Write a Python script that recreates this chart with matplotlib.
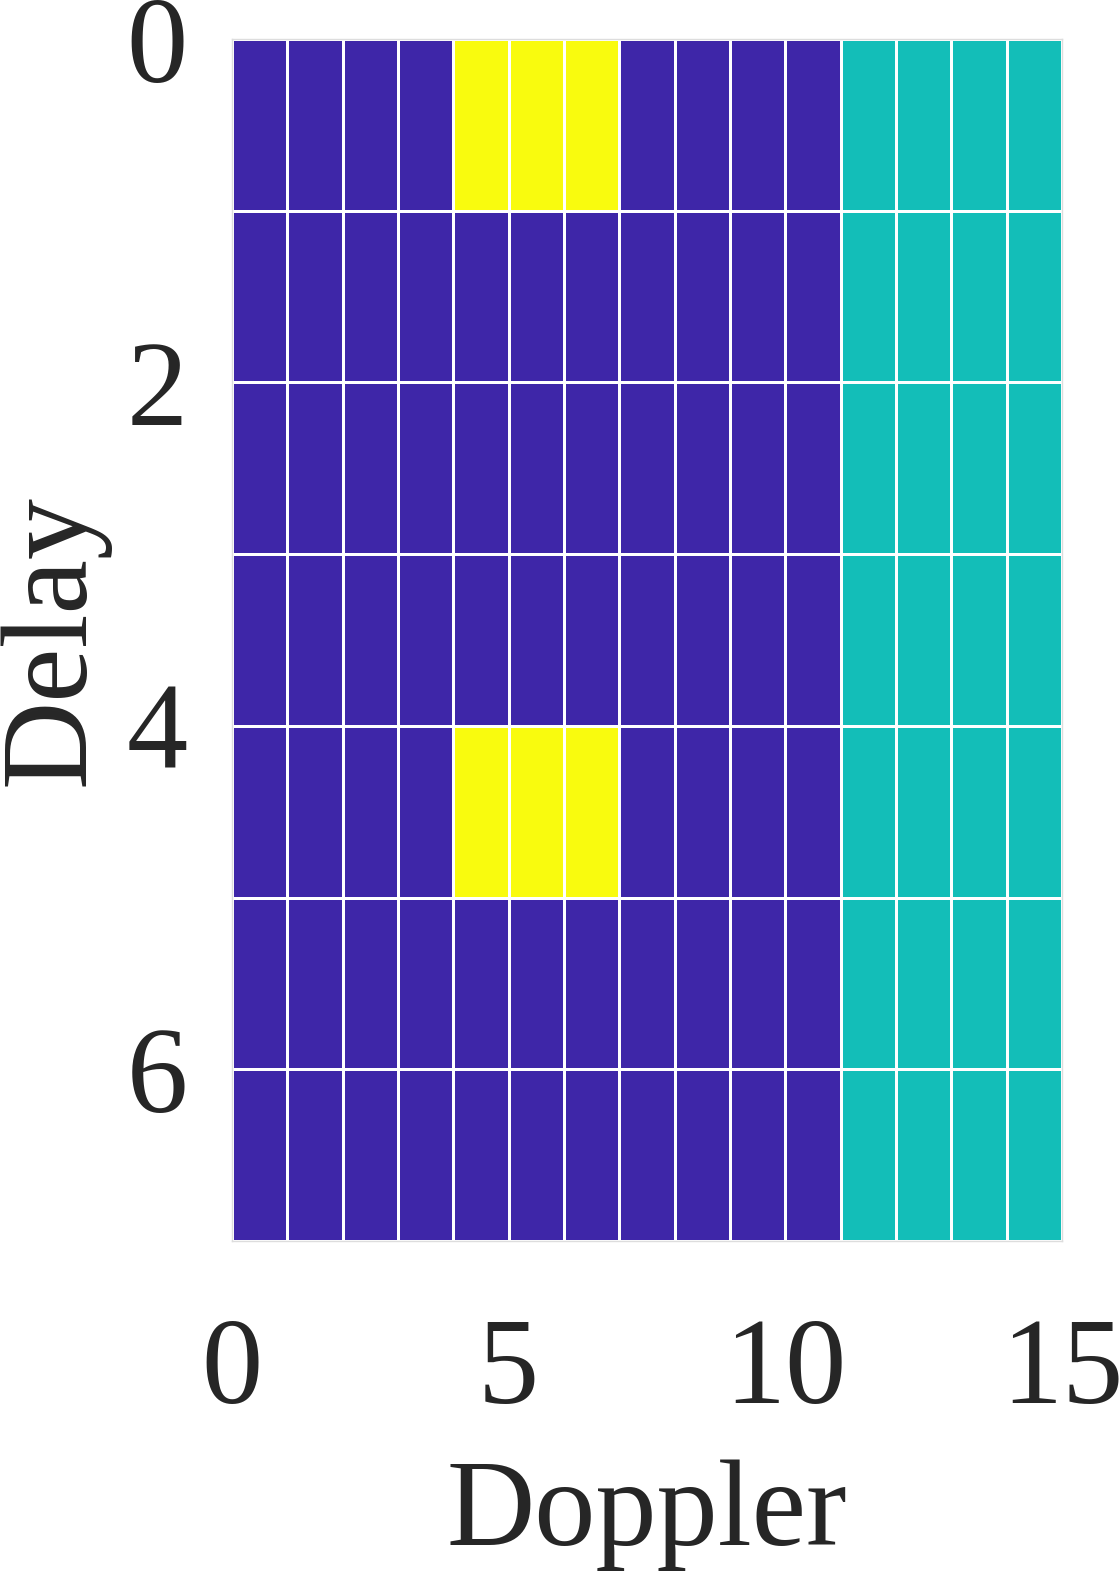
import numpy as np
import matplotlib.pyplot as plt
from matplotlib.colors import ListedColormap

# grid values: 0 = low (blue), 1 = mid (teal), 2 = high (yellow)
n_delay = 7
n_doppler = 15
teal_cols = [11, 12, 13, 14]
yellow_rows = [0, 4]
yellow_cols = [4, 5, 6]

xticks = [0, 5, 10, 15]
yticks = [0, 2, 4, 6]

grid = np.zeros((n_delay, n_doppler))
grid[:, teal_cols] = 1
for r in yellow_rows:
    grid[r, yellow_cols] = 2

cmap = ListedColormap(['#3E26A8', '#13BEB8', '#F9FB0E'])

plt.rcParams['font.family'] = ['Liberation Serif', 'DejaVu Serif']
txt = '#262626'

fig = plt.figure(figsize=(11.2, 15.84), dpi=100)
ax = fig.add_axes([232/1120, 1 - 1241/1584, 830/1120, 1202/1584])
ax.pcolormesh(np.arange(n_doppler + 1), np.arange(n_delay + 1), grid,
              cmap=cmap, vmin=0, vmax=2, edgecolors='white', linewidth=2)
ax.set_xlim(0, 15)
ax.set_ylim(7, 0)
ax.set_xticks(xticks)
ax.set_yticks(yticks)
ax.tick_params(length=0, labelsize=88, labelcolor=txt)
ax.tick_params(axis='x', pad=55)
ax.tick_params(axis='y', pad=32)
for s in ax.spines.values():
    s.set_color('#dddddd')
    s.set_linewidth(1)
ax.set_xlabel('Doppler', fontsize=88, labelpad=22, color=txt)
ax.set_ylabel('Delay', fontsize=88, labelpad=12, color=txt)

fig.savefig('out.png', dpi=100)
